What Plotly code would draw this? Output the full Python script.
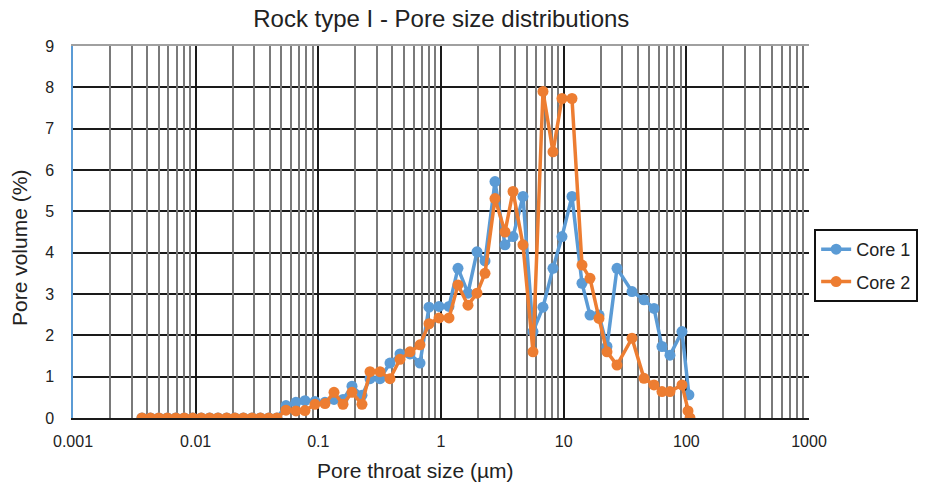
import plotly.graph_objects as go
import numpy as np

# Pore throat size (µm) for the zero-volume fine range (both cores)
x_fine = [0.00365, 0.00428, 0.00501, 0.00588, 0.00689, 0.00807, 0.00946, 0.0111,
          0.0130, 0.0152, 0.0179, 0.0209, 0.0245, 0.0288, 0.0337, 0.0395]

# Pore throat size (µm), main range
x_main = [0.0460, 0.0545, 0.0657, 0.0778, 0.0939, 0.1133, 0.1342, 0.1589, 0.1881,
          0.2269, 0.2638, 0.3183, 0.3838, 0.4632, 0.5587, 0.6742, 0.7983, 0.9630,
          1.1618, 1.3754, 1.6596, 1.9655, 2.2839, 2.7549, 3.3236, 3.8637, 4.6602,
          5.6221, 6.7827, 8.1826, 9.6895, 11.689, 14.104, 16.39, 19.41, 22.55,
          27.21, 36.06, 45.17, 54.49, 63.32, 73.56, 92.15]

core1_main = [0.0, 0.30, 0.38, 0.42, 0.40, 0.38, 0.45, 0.45, 0.77,
              0.55, 0.95, 0.95, 1.33, 1.55, 1.55, 1.33, 2.68, 2.70,
              2.70, 3.62, 3.02, 4.02, 3.80, 5.72, 4.19, 4.39, 5.36,
              2.09, 2.68, 3.62, 4.39, 5.36, 3.26, 2.49, 2.49, 1.73,
              3.62, 3.06, 2.86, 2.65, 1.73, 1.52, 2.09]
core1_tail_x = [105.0]
core1_tail_y = [0.56]

core2_main = [0.0, 0.19, 0.17, 0.18, 0.33, 0.35, 0.62, 0.33, 0.62,
              0.33, 1.12, 1.12, 0.95, 1.42, 1.60, 1.77, 2.28, 2.42,
              2.42, 3.22, 2.73, 3.02, 3.50, 5.31, 4.50, 5.48, 4.19,
              1.60, 7.90, 6.44, 7.73, 7.73, 3.70, 3.38, 2.41, 1.60,
              1.28, 1.93, 0.96, 0.80, 0.64, 0.64, 0.80]
core2_tail_x = [103.2, 107.1]
core2_tail_y = [0.17, 0.0]

x_ticks = [0.001, 0.01, 0.1, 1, 10, 100, 1000]
x_ticktext = ["0.001", "0.01", "0.1", "1", "10", "100", "1000"]
y_ticks = list(range(0, 10))

core1_x = x_fine + x_main + core1_tail_x
core1_y = [0.0] * len(x_fine) + core1_main + core1_tail_y
core2_x = x_fine + x_main + core2_tail_x
core2_y = [0.0] * len(x_fine) + core2_main + core2_tail_y

BLUE = "#5B9BD5"
ORANGE = "#ED7D31"
FONT = "Liberation Sans, Arial, sans-serif"

minor_vals = [k * 10.0 ** e for e in range(-3, 3) for k in range(2, 10)]

fig = go.Figure()
fig.add_trace(go.Scatter(x=core1_x, y=core1_y, mode="lines+markers", name="Core 1",
                         line=dict(color=BLUE, width=3.5),
                         marker=dict(color=BLUE, size=11), legendgroup="a"))
fig.add_trace(go.Scatter(x=core2_x, y=core2_y, mode="lines+markers", name="Core 2",
                         line=dict(color=ORANGE, width=3.5),
                         marker=dict(color=ORANGE, size=11), legendgroup="b"))
# invisible trace to carry the minor grid axis
fig.add_trace(go.Scatter(x=[0.001, 1000], y=[0, 0], xaxis="x2", mode="markers",
                         marker=dict(opacity=0), showlegend=False, hoverinfo="skip"))

fig.update_layout(
    width=931, height=488,
    margin=dict(l=73, r=122, t=46, b=70),
    paper_bgcolor="white", plot_bgcolor="white",
    font=dict(family=FONT, color="#222222", size=16),
    title=dict(text="Rock type I - Pore size distributions", x=0.474, xanchor="center",
               y=0.962, yanchor="middle", font=dict(size=24, color="#222222")),
    showlegend=True,
    legend=dict(x=1.007, y=0.508, xanchor="left", yanchor="top",
                bgcolor="white", bordercolor="#111111", borderwidth=2,
                font=dict(size=18, color="#222222"),
                traceorder="grouped", tracegroupgap=6),
    xaxis=dict(type="log", range=[-3, 3], tickmode="array", tickvals=x_ticks,
               ticktext=x_ticktext, showgrid=True, gridcolor="#1a1a1a", gridwidth=1.5,
               showline=True, linecolor="#1a1a1a", linewidth=1.5,
               ticks="outside", ticklen=8, tickcolor="rgba(0,0,0,0)",
               tickfont=dict(size=16), zeroline=False),
    xaxis2=dict(type="log", range=[-3, 3], overlaying="x", side="top",
                tickmode="array", tickvals=minor_vals, showticklabels=False,
                showgrid=True, gridcolor="#7a7a7a", gridwidth=1.5,
                showline=True, linecolor="#a0a0a0", linewidth=1.5, ticks=""),
    yaxis=dict(range=[0, 9], tickmode="array", tickvals=y_ticks,
               showgrid=True, gridcolor="#1a1a1a", gridwidth=1.5,
               showline=True, linecolor=BLUE, linewidth=1.5,
               ticks="outside", ticklen=14, tickcolor="rgba(0,0,0,0)",
               tickfont=dict(size=16), zeroline=False),
    annotations=[
        dict(text="Pore throat size (µm)", xref="paper", yref="paper",
             x=0.465, y=-0.14, xanchor="center", yanchor="middle", showarrow=False,
             font=dict(size=21, color="#222222")),
        dict(text="Pore volume (%)", xref="paper", yref="paper", textangle=-90,
             x=-0.072, y=0.457, xanchor="center", yanchor="middle", showarrow=False,
             font=dict(size=21, color="#222222")),
    ],
)

fig.write_html("out.html")
